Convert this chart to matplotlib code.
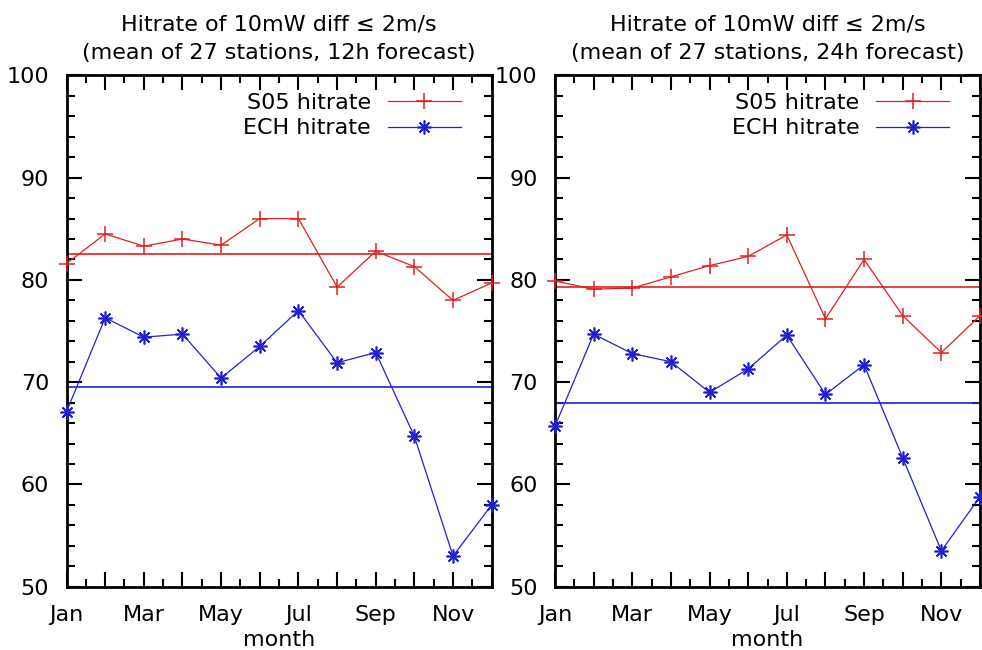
import matplotlib
matplotlib.use("Agg")
import matplotlib.pyplot as plt
from matplotlib.ticker import MultipleLocator, FixedLocator

plt.rcParams['font.family'] = ['DejaVu Sans']

months = list(range(1, 13))
month_labels = ['Jan', '', 'Mar', '', 'May', '', 'Jul', '', 'Sep', '', 'Nov', '']

s05_12h = [81.6, 84.5, 83.3, 84.0, 83.4, 86.0, 86.0, 79.3, 82.8, 81.3, 78.0, 79.7]
ech_12h = [67.1, 76.3, 74.4, 74.7, 70.4, 73.5, 77.0, 71.9, 72.9, 64.7, 53.0, 58.0]
s05_12h_mean = 82.5
ech_12h_mean = 69.5

s05_24h = [79.9, 79.1, 79.2, 80.3, 81.4, 82.3, 84.4, 76.2, 82.0, 76.5, 72.9, 76.5]
ech_24h = [65.7, 74.7, 72.8, 72.0, 69.0, 71.3, 74.6, 68.8, 71.7, 62.6, 53.5, 58.8]
s05_24h_mean = 79.3
ech_24h_mean = 68.0

titles = ["Hitrate of 10mW diff \u2264 2m/s\n(mean of 27 stations, 12h forecast)",
          "Hitrate of 10mW diff \u2264 2m/s\n(mean of 27 stations, 24h forecast)"]

RED = '#e02020'
BLUE = '#2020d0'
FS = 16

fig = plt.figure(figsize=(9.82, 6.5), dpi=100)
W, H = 982, 650
boxes = [(66.5, 491.7), (555, 980)]
top_px, bot_px = 75.4, 586.7

datasets = [(s05_12h, ech_12h, s05_12h_mean, ech_12h_mean),
            (s05_24h, ech_24h, s05_24h_mean, ech_24h_mean)]

star = (8, 2, 0)

for i, ((l, r), (s05, ech, sm, em)) in enumerate(zip(boxes, datasets)):
    ax = fig.add_axes([l / W, 1 - bot_px / H, (r - l) / W, (bot_px - top_px) / H])
    ax.plot(months, s05, color=RED, lw=0.9, marker='+', ms=11, mew=1.1,
            label='S05 hitrate', clip_on=False, zorder=3)
    ax.plot(months, ech, color=BLUE, lw=0.9, marker=star, ms=10, mew=1.2,
            label='ECH hitrate', clip_on=False, zorder=3)
    ax.axhline(sm, color=RED, lw=1.2)
    ax.axhline(em, color=BLUE, lw=1.2)
    ax.set_xlim(1, 12)
    ax.set_ylim(50, 100)
    ax.xaxis.set_major_locator(FixedLocator(months))
    ax.set_xticklabels(month_labels)
    ax.xaxis.set_minor_locator(MultipleLocator(0.5))
    ax.yaxis.set_major_locator(MultipleLocator(10))
    ax.yaxis.set_minor_locator(MultipleLocator(2))
    ax.tick_params(which='both', direction='in', top=True, right=True,
                   labelsize=FS, width=1.5)
    ax.tick_params(which='major', length=11)
    ax.tick_params(which='minor', length=6)
    ax.tick_params(axis='y', which='major', pad=12.5)
    ax.tick_params(axis='x', which='major', pad=13)
    for sp in ax.spines.values():
        sp.set_linewidth(2)
    ax.set_xlabel('month', fontsize=FS, labelpad=3.5)
    ax.set_title(titles[i], fontsize=FS, pad=12, linespacing=1.5)
    ax.legend(loc='upper right', bbox_to_anchor=(0.928, 0.966),
              markerfirst=False, frameon=False, fontsize=FS,
              handlelength=3.3, handletextpad=0.75, borderaxespad=0.0,
              labelspacing=0.25, borderpad=0.0)

fig.savefig('out.png', dpi=100)
